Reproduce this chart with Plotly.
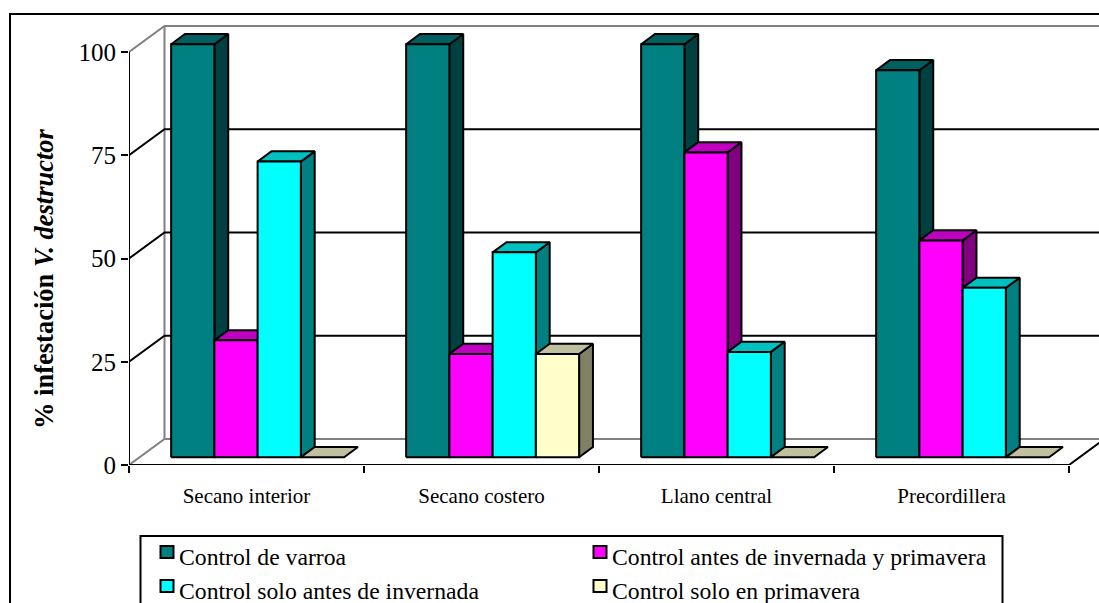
import plotly.graph_objects as go

# Chart data
categories = ["Secano interior", "Secano costero", "Llano central", "Precordillera"]
series_names = [
    "Control de varroa",
    "Control antes de invernada y primavera",
    "Control solo antes de invernada",
    "Control solo en primavera",
]
control_varroa = [100, 100, 100, 93.7]
control_antes_y_primavera = [28.3, 25, 73.8, 52.5]
control_solo_antes = [71.6, 49.6, 25.5, 41]
control_solo_primavera = [0, 25, 0, 0]
series_values = [control_varroa, control_antes_y_primavera, control_solo_antes, control_solo_primavera]
y_ticks = [0, 25, 50, 75, 100]

# Face colours of each series: front, side, top
front_colors = ["#008080", "#FF00FF", "#00FFFF", "#FFFFCC"]
side_colors = ["#004040", "#800080", "#008080", "#808066"]
top_colors = ["#006060", "#C000C0", "#00C0C0", "#C0C0A0"]

# Oblique projection, expressed in axis units
WIDTH, HEIGHT = 1099, 603
LEFT, BOTTOM = 129, 138
CAT_PX = 235
VAL_PX = 4.13
DEPTH_X = 35.5 / CAT_PX
DEPTH_Y = 26 / VAL_PX
BAR_W = 0.184
BAR_GAP = (1 - 4 * BAR_W) / 2 + 0.002
BAR_D0, BAR_D1 = 0.3, 0.69
X_MAX = (WIDTH - LEFT) / CAT_PX
Y_MAX = (HEIGHT - BOTTOM) / VAL_PX


def proj(x, v, depth=0.0):
    return x + depth * DEPTH_X, v + depth * DEPTH_Y


def px(x):
    return (x - LEFT) / (WIDTH - LEFT)


def py(y):
    return (HEIGHT - BOTTOM - y) / (HEIGHT - BOTTOM)


fig = go.Figure()


def polyline(points, color, width=2):
    xs, ys = zip(*points)
    fig.add_trace(go.Scatter(x=xs, y=ys, mode="lines", line=dict(color=color, width=width),
                             hoverinfo="skip", showlegend=False, cliponaxis=False))


def face(points, fill, name):
    pts = points + points[:1]
    xs, ys = zip(*pts)
    fig.add_trace(go.Scatter(x=xs, y=ys, mode="lines", fill="toself", fillcolor=fill,
                             line=dict(color="black", width=2), name=name,
                             hoverinfo="name", showlegend=False, cliponaxis=False))


# Walls and floor
n = len(categories)
polyline([proj(0, 100), proj(0, 100, 1), proj(X_MAX, 100, 1)], "#808080")
polyline([proj(0, 0), proj(0, 0, 1), proj(X_MAX, 0, 1)], "#808080")
polyline([proj(0, 0, 1), proj(0, 100, 1)], "#808080")
for tick in y_ticks[1:-1]:
    polyline([proj(0, tick), proj(0, tick, 1), proj(X_MAX, tick, 1)], "black")
polyline([proj(0, 100), proj(0, 0), proj(n, 0), proj(n, 0, 1.2)], "black")

# Bars, painted left to right so that nearer faces cover earlier ones
for c in range(n):
    for s, values in enumerate(series_values):
        v = values[c]
        x0 = c + BAR_GAP + s * BAR_W
        x1 = x0 + BAR_W
        name = f"{categories[c]} - {series_names[s]}: {v}"
        if v > 0:
            face([proj(x1, 0, BAR_D0), proj(x1, 0, BAR_D1), proj(x1, v, BAR_D1), proj(x1, v, BAR_D0)],
                 side_colors[s], name)
        face([proj(x0, v, BAR_D0), proj(x0, v, BAR_D1), proj(x1, v, BAR_D1), proj(x1, v, BAR_D0)],
             top_colors[s], name)
        if v > 0:
            face([proj(x0, 0, BAR_D0), proj(x1, 0, BAR_D0), proj(x1, v, BAR_D0), proj(x0, v, BAR_D0)],
                 front_colors[s], name)

serif = "Liberation Serif"
shapes = [
    # Outer frame runs past the page on the right and bottom
    dict(type="rect", xref="paper", yref="paper", x0=px(10), x1=px(1120), y0=py(14), y1=py(640),
         line=dict(color="black", width=2), layer="below"),
    # Legend box
    dict(type="rect", xref="paper", yref="paper", x0=px(140.5), x1=px(1002.5), y0=py(536), y1=py(612),
         line=dict(color="black", width=2), fillcolor="white"),
]
annotations = [
    dict(text="<b>% infestación <i>V. destructor</i></b>", xref="paper", yref="paper",
         x=px(44), y=py(279), textangle=-90, showarrow=False, xanchor="center", yanchor="middle",
         font=dict(family=serif, size=26.5, color="black")),
]

# Two-column legend
legend_cols = [160.5, 593.5]
legend_rows = [546, 580]
for i, name in enumerate(series_names):
    lx = legend_cols[i % 2]
    ly = legend_rows[i // 2]
    shapes.append(dict(type="rect", xref="paper", yref="paper", x0=px(lx), x1=px(lx + 13),
                       y0=py(ly), y1=py(ly + 12), fillcolor=front_colors[i],
                       line=dict(color="black", width=2)))
    annotations.append(dict(text=name, xref="paper", yref="paper", x=px(lx + 16), y=py(ly + 11),
                            xanchor="left", yanchor="middle", showarrow=False,
                            font=dict(family=serif, size=23.7, color="black")))

fig.update_layout(
    width=WIDTH, height=HEIGHT, autosize=False,
    margin=dict(l=LEFT, r=0, t=0, b=BOTTOM, pad=0),
    paper_bgcolor="white", plot_bgcolor="rgba(0,0,0,0)",
    showlegend=False, shapes=shapes, annotations=annotations,
    xaxis=dict(
        range=[0, X_MAX], showgrid=False, zeroline=False, showline=False,
        tickmode="array", tickvals=[i + 0.5 for i in range(n)], ticktext=categories,
        ticks="", ticklabelstandoff=16,
        tickfont=dict(family=serif, size=21, color="black"),
        minor=dict(tickmode="array", tickvals=list(range(n + 1)), ticks="outside",
                   ticklen=7, tickwidth=2, tickcolor="black", showgrid=False),
    ),
    yaxis=dict(
        range=[0, Y_MAX], showgrid=False, zeroline=False, showline=False,
        tickmode="array", tickvals=y_ticks, ticks="outside", ticklen=7, tickwidth=2,
        tickcolor="black", tickfont=dict(family=serif, size=25, color="black"),
    ),
)

fig.write_html("out.html", config=dict(displayModeBar=False))
